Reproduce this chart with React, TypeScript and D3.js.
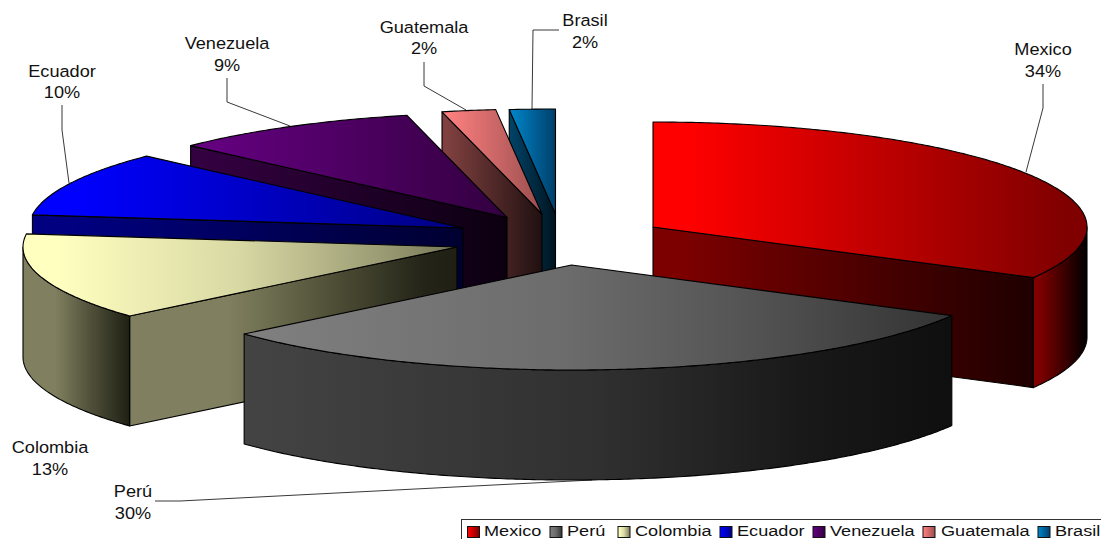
import React from "react";
import * as d3 from "d3";

// Data
const categories = ["Mexico", "Perú", "Colombia", "Ecuador", "Venezuela", "Guatemala", "Brasil"];
const shares = [33.0, 30.6, 13.4, 10.0, 9.3, 2.0, 1.7];
const percentLabels = ["34%", "30%", "13%", "10%", "9%", "2%", "2%"];

// Styles: gradient stops as [offset, colour]
type Stop = [number, string];
const topStops: Stop[][] = [
  [[0.08, "#ff0000"], [0.95, "#800000"]],
  [[0, "#808080"], [0.45, "#6c6c6c"], [0.7, "#555555"], [1, "#333333"]],
  [[0.08, "#ffffc0"], [0.5, "#d8d8a4"], [0.8, "#a0a078"], [1, "#777758"]],
  [[0.1, "#0000ff"], [1, "#000080"]],
  [[0.05, "#640080"], [1, "#330040"]],
  [[0.05, "#ff8080"], [1, "#9a4e4e"]],
  [[0.05, "#0084c8"], [1, "#003f6a"]],
];
const radialStops: Stop[][] = [
  [[0.08, "#7c0000"], [1, "#1f0000"]],
  [[0, "#404040"], [1, "#101010"]],
  [[0.3, "#808060"], [0.6, "#525239"], [0.9, "#242418"], [1, "#1f1f14"]],
  [[0.1, "#000080"], [1, "#000030"]],
  [[0.05, "#330040"], [1, "#0c0010"]],
  [[0.05, "#804040"], [1, "#201010"]],
  [[0, "#004468"], [1, "#001420"]],
];
const outerStops: Stop[][] = [
  [[0.1, "#800000"], [1, "#000000"]],
  [[0, "#444444"], [0.5, "#303030"], [0.8, "#181818"], [1, "#0f0f0f"]],
  [[0.3, "#808060"], [0.65, "#4e4e38"], [1, "#1f1f14"]],
  [[0, "#000080"], [1, "#000030"]],
  [[0, "#330040"], [1, "#0c0010"]],
  [[0, "#804040"], [1, "#201010"]],
  [[0, "#004468"], [1, "#001420"]],
];

// Layout
const RX = 434, RY = 105, DEPTH = 110;
const apexX = [653, 571.5, 457, 463, 507, 542, 555.5];
const apexY = [227, 265, 247, 228, 217.5, 214, 214];
const drawOrder = [6, 5, 4, 3, 2, 0, 1];
const labelX = [1043, 133, 50, 62, 227, 424, 585];
const labelY = [55, 497, 453, 76.5, 49, 32.5, 26];
const leaders: [number, number][][] = [
  [[1043, 84], [1043, 108], [1026, 172]],
  [[155, 501], [180, 501], [592, 480]],
  [],
  [[62, 105], [62, 130], [69, 183]],
  [[227, 78], [227, 102], [290, 126]],
  [[424, 62], [424, 86], [466, 110]],
  [[559, 30], [533, 30], [532, 109]],
];
const legendSwatchX = [467.5, 550, 618, 720, 813, 923, 1038];
const legendTextX = [484, 567, 635, 737, 830, 941, 1055];

const pie = d3.pie<number>().sort(null).startAngle(0).endAngle(2 * Math.PI);
const arcs = pie(shares);
const line = d3.line<[number, number]>().curve(d3.curveLinear);

function rim(i: number, a0: number, a1: number, dy = 0): [number, number][] {
  const n = Math.max(2, Math.ceil(Math.abs(a1 - a0) / 0.01));
  return d3.range(n + 1).map((k) => {
    const t = a0 + ((a1 - a0) * k) / n;
    return [apexX[i] + RX * Math.sin(t), apexY[i] - RY * Math.cos(t) + dy] as [number, number];
  });
}

type Face = { id: string; d: string; stops: Stop[]; x0: number; x1: number };

function makeFace(id: string, pts: [number, number][], stops: Stop[]): Face {
  const [x0, x1] = d3.extent(pts, (p) => p[0]) as [number, number];
  return { id, d: line(pts) + "Z", stops, x0, x1 };
}

function sliceFaces(i: number): Face[] {
  const { startAngle: a0, endAngle: a1 } = arcs[i];
  const faces: Face[] = [];
  const apex: [number, number] = [apexX[i], apexY[i]];
  const apexLow: [number, number] = [apexX[i], apexY[i] + DEPTH];
  // radial wall facing the viewer
  if (a1 < Math.PI) {
    const e = rim(i, a1, a1)[0];
    faces.push(makeFace(`r${i}`, [apex, e, [e[0], e[1] + DEPTH], apexLow], radialStops[i]));
  } else if (a0 > Math.PI) {
    const e = rim(i, a0, a0)[0];
    faces.push(makeFace(`r${i}`, [e, apex, apexLow, [e[0], e[1] + DEPTH]], radialStops[i]));
  }
  // curved outer wall (front half only)
  const w0 = Math.max(a0, Math.PI / 2);
  const w1 = Math.min(a1, (3 * Math.PI) / 2);
  if (w1 > w0) {
    const up = rim(i, w0, w1);
    const down = rim(i, w1, w0, DEPTH);
    faces.push(makeFace(`o${i}`, [...up, ...down], outerStops[i]));
  }
  // top
  faces.push(makeFace(`t${i}`, [apex, ...rim(i, a0, a1)], topStops[i]));
  return faces;
}

const allFaces = drawOrder.map((i) => sliceFaces(i)).flat();

const fontFamily = "'Liberation Sans', Arial, sans-serif";

function StretchedText({ x, y, children, anchor = "middle", size = 16.5, sx = 1.1 }: { x: number; y: number; children: React.ReactNode; anchor?: string; size?: number; sx?: number }) {
  return (
    <text transform={`translate(${x},${y}) scale(${sx},1)`} textAnchor={anchor} fontFamily={fontFamily} fontSize={size} fill="#111">
      {children}
    </text>
  );
}

export default function App() {
  return (
    <svg width={1101} height={539} viewBox="0 0 1101 539" style={{ position: "absolute", left: 0, top: 0, display: "block", background: "#fff" }}>
      <defs>
        {allFaces.map((f) => (
          <linearGradient key={f.id} id={f.id} gradientUnits="userSpaceOnUse" x1={f.x0} x2={f.x1} y1={0} y2={0}>
            {f.stops.map(([o, c]) => <stop key={o} offset={o} stopColor={c} />)}
          </linearGradient>
        ))}
        {categories.map((c, i) => (
          <linearGradient key={c} id={`s${i}`} x1="0" x2="1" y1="0" y2="0">
            {topStops[i].map(([o, col]) => <stop key={o} offset={o} stopColor={col} />)}
          </linearGradient>
        ))}
      </defs>

      {leaders.map((pts, i) =>
        pts.length ? <path key={i} d={line(pts) ?? ""} fill="none" stroke="#222" strokeWidth={0.9} /> : null
      )}

      {allFaces.map((f) => (
        <path key={f.id} d={f.d} fill={`url(#${f.id})`} stroke="#000" strokeWidth={1.1} strokeLinejoin="round" />
      ))}

      {categories.map((c, i) => (
        <g key={c}>
          <StretchedText x={labelX[i]} y={labelY[i]}>{c}</StretchedText>
          <StretchedText x={labelX[i]} y={labelY[i] + 21.5}>{percentLabels[i]}</StretchedText>
        </g>
      ))}

      <rect x={461.5} y={519.5} width={660} height={40} fill="#fff" stroke="#333" strokeWidth={1} />
      {categories.map((c, i) => (
        <g key={c}>
          <rect x={legendSwatchX[i]} y={526.5} width={12} height={11} fill={`url(#s${i})`} stroke="#111" strokeWidth={1} />
          <StretchedText x={legendTextX[i]} y={535.7} anchor="start" size={15.5} sx={1.17}>{c}</StretchedText>
        </g>
      ))}
    </svg>
  );
}
